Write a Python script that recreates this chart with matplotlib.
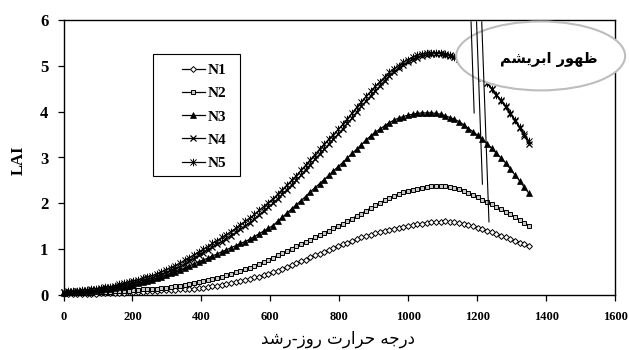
import matplotlib
matplotlib.use("Agg")
import matplotlib.pyplot as plt
from matplotlib.patches import Ellipse, Rectangle
from matplotlib.path import Path

# ---------------- data ----------------
gdd = [round(13.5 * i, 1) for i in range(101)]

n1 = [0.04, 0.04, 0.04, 0.04, 0.04, 0.04, 0.04, 0.04, 0.05, 0.05,
      0.05, 0.05, 0.06, 0.06, 0.07, 0.07, 0.08, 0.08, 0.09, 0.09,
      0.10, 0.11, 0.11, 0.12, 0.12, 0.13, 0.14, 0.15, 0.15, 0.16,
      0.17, 0.18, 0.20, 0.21, 0.23, 0.25, 0.27, 0.29, 0.31, 0.34,
      0.36, 0.39, 0.41, 0.44, 0.47, 0.50, 0.54, 0.58, 0.62, 0.66,
      0.70, 0.74, 0.78, 0.83, 0.87, 0.91, 0.95, 0.99, 1.03, 1.07,
      1.11, 1.15, 1.18, 1.22, 1.26, 1.29, 1.32, 1.35, 1.38, 1.41,
      1.43, 1.45, 1.47, 1.49, 1.51, 1.53, 1.55, 1.56, 1.58, 1.59,
      1.60, 1.60, 1.61, 1.60, 1.59, 1.58, 1.56, 1.53, 1.50, 1.47,
      1.44, 1.41, 1.37, 1.34, 1.30, 1.27, 1.23, 1.19, 1.15, 1.11,
      1.07]

n2 = [0.05, 0.05, 0.05, 0.06, 0.06, 0.06, 0.06, 0.07, 0.07, 0.08,
      0.08, 0.09, 0.09, 0.10, 0.10, 0.11, 0.12, 0.13, 0.13, 0.14,
      0.15, 0.16, 0.17, 0.19, 0.20, 0.21, 0.23, 0.25, 0.27, 0.29,
      0.31, 0.33, 0.36, 0.38, 0.41, 0.44, 0.47, 0.50, 0.53, 0.57,
      0.60, 0.64, 0.69, 0.73, 0.78, 0.82, 0.87, 0.92, 0.97, 1.02,
      1.07, 1.12, 1.17, 1.21, 1.26, 1.31, 1.36, 1.41, 1.46, 1.51,
      1.56, 1.62, 1.67, 1.73, 1.78, 1.84, 1.90, 1.96, 2.01, 2.07,
      2.12, 2.16, 2.20, 2.24, 2.27, 2.30, 2.32, 2.34, 2.36, 2.37,
      2.38, 2.38, 2.37, 2.36, 2.34, 2.32, 2.28, 2.23, 2.18, 2.13,
      2.08, 2.03, 1.98, 1.92, 1.87, 1.82, 1.76, 1.70, 1.64, 1.58,
      1.52]

n3 = [0.06, 0.07, 0.07, 0.08, 0.08, 0.09, 0.10, 0.11, 0.12, 0.13,
      0.14, 0.16, 0.18, 0.19, 0.21, 0.23, 0.26, 0.29, 0.31, 0.34,
      0.37, 0.41, 0.44, 0.48, 0.51, 0.55, 0.59, 0.64, 0.68, 0.73,
      0.77, 0.81, 0.86, 0.90, 0.95, 0.99, 1.04, 1.08, 1.13, 1.17,
      1.22, 1.28, 1.34, 1.40, 1.46, 1.52, 1.61, 1.70, 1.79, 1.88,
      1.97, 2.06, 2.15, 2.25, 2.34, 2.43, 2.52, 2.61, 2.71, 2.80,
      2.89, 2.99, 3.09, 3.18, 3.28, 3.38, 3.47, 3.55, 3.62, 3.69,
      3.76, 3.81, 3.86, 3.89, 3.92, 3.94, 3.96, 3.97, 3.97, 3.97,
      3.96, 3.94, 3.91, 3.87, 3.83, 3.78, 3.71, 3.63, 3.56, 3.48,
      3.40, 3.30, 3.20, 3.09, 2.99, 2.88, 2.75, 2.62, 2.49, 2.35,
      2.22]

n4 = [0.07, 0.08, 0.08, 0.09, 0.09, 0.10, 0.11, 0.12, 0.14, 0.15,
      0.16, 0.18, 0.20, 0.23, 0.25, 0.27, 0.30, 0.32, 0.35, 0.38,
      0.41, 0.45, 0.49, 0.53, 0.57, 0.62, 0.68, 0.74, 0.80, 0.87,
      0.93, 0.99, 1.05, 1.11, 1.17, 1.23, 1.30, 1.37, 1.44, 1.51,
      1.58, 1.66, 1.75, 1.83, 1.92, 2.00, 2.10, 2.20, 2.30, 2.40,
      2.50, 2.61, 2.73, 2.84, 2.96, 3.07, 3.18, 3.29, 3.40, 3.51,
      3.62, 3.74, 3.86, 3.99, 4.11, 4.23, 4.34, 4.45, 4.56, 4.67,
      4.78, 4.86, 4.94, 5.01, 5.07, 5.13, 5.17, 5.21, 5.23, 5.25,
      5.26, 5.26, 5.24, 5.21, 5.18, 5.14, 5.07, 4.99, 4.91, 4.83,
      4.74, 4.62, 4.49, 4.36, 4.23, 4.10, 3.95, 3.80, 3.64, 3.47,
      3.30]

n5 = [0.08, 0.09, 0.10, 0.10, 0.11, 0.12, 0.13, 0.15, 0.16, 0.18,
      0.19, 0.21, 0.24, 0.26, 0.29, 0.31, 0.34, 0.37, 0.40, 0.43,
      0.46, 0.51, 0.56, 0.60, 0.65, 0.70, 0.76, 0.82, 0.88, 0.94,
      1.00, 1.06, 1.13, 1.19, 1.26, 1.32, 1.39, 1.46, 1.54, 1.61,
      1.68, 1.76, 1.85, 1.93, 2.02, 2.10, 2.20, 2.30, 2.40, 2.50,
      2.60, 2.72, 2.83, 2.95, 3.06, 3.18, 3.29, 3.40, 3.50, 3.61,
      3.72, 3.84, 3.97, 4.09, 4.21, 4.33, 4.44, 4.55, 4.65, 4.75,
      4.85, 4.93, 5.00, 5.07, 5.13, 5.18, 5.22, 5.25, 5.27, 5.28,
      5.28, 5.28, 5.26, 5.23, 5.19, 5.15, 5.08, 5.00, 4.92, 4.84,
      4.75, 4.63, 4.50, 4.37, 4.25, 4.12, 3.97, 3.82, 3.67, 3.51,
      3.35]

series_names = ["N1", "N2", "N3", "N4", "N5"]
x_ticks = [0, 200, 400, 600, 800, 1000, 1200, 1400, 1600]
y_ticks = [0, 1, 2, 3, 4, 5, 6]

# annotation lines (start x, start y, end x, end y)
mark_lines = [(1182, 5.95, 1191, 3.97),
              (1198, 5.95, 1215, 2.42),
              (1213, 5.95, 1234, 1.60)]

# Persian texts, pre-shaped in visual order (presentation forms)
silk_text = "\uFEE2\uFEB8\uFEF3\uFEAE\uFE91\uFE8D \uFEAD\uFEEE\uFEEC\uFEC7"   # ظهور ابریشم
xlabel_text = ("\uFEAA\uFEB7\uFEAD-\uFEAF\uFEED\uFEAD \uFE95\uFEAD\uFE8D\uFEAE\uFEA3 "
               "\uFEEA\uFE9F\uFEAD\uFEA9")                                  # درجه حرارت روز-رشد

# ---------------- figure ----------------
fig = plt.figure(figsize=(6.29, 3.5), dpi=100)
ax = fig.add_axes([0.101, 0.156, 0.877, 0.788])

serif = ["Liberation Serif", "DejaVu Serif"]

star = Path([(-1, -1), (1, 1), (-1, 1), (1, -1), (0, -1.25), (0, 1.25)],
            [Path.MOVETO, Path.LINETO, Path.MOVETO, Path.LINETO, Path.MOVETO, Path.LINETO])

styles = [
    dict(marker="D", ms=3.0, mfc="white", mec="black", mew=0.7),
    dict(marker="s", ms=3.4, mfc="#c8c8c8", mec="black", mew=0.7),
    dict(marker="^", ms=4.0, mfc="black", mec="black", mew=0.5),
    dict(marker="x", ms=5.0, mfc="none", mec="black", mew=0.9),
    dict(marker=star, ms=5.5, mfc="none", mec="black", mew=0.7),
]
data = [n1, n2, n3, n4, n5]
handles = []
for name, ys, st in zip(series_names, data, styles):
    h, = ax.plot(gdd, ys, color="black", lw=0.9, label=name, clip_on=False, zorder=3, **st)
    handles.append(h)

ax.set_xlim(0, 1600)
ax.set_ylim(0, 6)
ax.set_xticks(x_ticks)
ax.set_yticks(y_ticks)
ax.tick_params(axis="x", direction="out", length=4, width=0.9, pad=7, labelsize=9)
ax.tick_params(axis="y", direction="out", length=4, width=0.9, pad=7, labelsize=12)
for lab in ax.get_xticklabels() + ax.get_yticklabels():
    lab.set_fontfamily(serif)
    lab.set_fontweight("bold")
for sp in ax.spines.values():
    sp.set_linewidth(1.0)
    sp.set_color("black")

# ellipse annotation
ell = Ellipse((1384, 5.21), 490, 1.5, facecolor="white", edgecolor="#bdbdbd",
              lw=1.5, zorder=4, clip_on=False)
ax.add_patch(ell)
ax.text(1408, 5.14, silk_text, ha="center", va="center", fontsize=10.5,
        fontweight="bold", family=["DejaVu Sans"], zorder=6)

for (x0, y0, x1, y1) in mark_lines:
    ax.plot([x0, x1], [y0, y1], color="black", lw=0.8, zorder=5)

# legend
leg_box = Rectangle((0.162, 0.433), 0.158, 0.442, transform=ax.transAxes,
                    facecolor="white", edgecolor="black", lw=0.8, zorder=4)
ax.add_patch(leg_box)
leg = ax.legend(handles=handles, loc="upper right", bbox_to_anchor=(0.318, 0.885),
                frameon=False, numpoints=1, handlelength=1.5, handletextpad=0.2,
                labelspacing=0.62, borderpad=0.3,
                prop={"family": serif, "weight": "bold", "size": 11})
leg.set_zorder(5)

# axis labels
fig.text(0.030, 0.543, "LAI", rotation=90, ha="center", va="center",
         fontsize=12, fontweight="bold", family=serif)
fig.text(0.537, 0.030, xlabel_text, ha="center", va="center", fontsize=12,
         family=["DejaVu Sans"])

fig.savefig("out.png", dpi=100)
